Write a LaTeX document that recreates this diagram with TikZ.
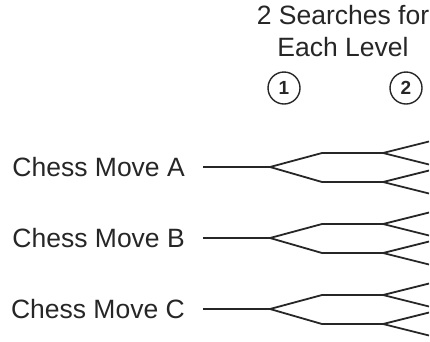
\documentclass[tikz,border=0pt]{standalone}
\usepackage{fontspec}
\setmainfont{Liberation Sans}
\begin{document}
\begin{tikzpicture}[x=1pt,y=-1pt,
  br/.style={line width=1.8pt,draw=black!85,line join=round},
  lbl/.style={font=\fontsize{26.5}{32}\selectfont,text=black!85,inner sep=0pt},
  num/.style={circle,draw=black!85,line width=1.4pt,minimum size=32pt,inner sep=0pt,font=\fontsize{19}{22}\selectfont\bfseries,text=black!85}]
\useasboundingbox (0,0) rectangle (430,341);
\node[lbl,align=center] (hdr) at (343,31) {2 Searches for\\Each Level};
\node[num] (c1) at (284,88) {1};
\node[num] (c2) at (406,88) {2};
\foreach \r/\y in {A/167,B/238,C/309}{
  \node[lbl,anchor=east] (t\r) at (185,\y) {Chess Move \r};
  \coordinate (s\r) at (203,\y);
  \coordinate (f\r) at (270,\y);
  \coordinate (u\r) at (322,\y-14);
  \coordinate (d\r) at (322,\y+15);
  \coordinate (uf\r) at (383,\y-14);
  \coordinate (df\r) at (383,\y+15);
  \coordinate (l1\r) at (429,\y-25.5);
  \coordinate (l2\r) at (429,\y-2.5);
  \coordinate (l3\r) at (429,\y+3.5);
  \coordinate (l4\r) at (429,\y+26.5);
  \draw[br] (s\r) -- (f\r) -- (u\r) -- (uf\r) -- (l1\r);
  \draw[br] (f\r) -- (d\r) -- (df\r) -- (l3\r);
  \draw[br] (uf\r) -- (l2\r);
  \draw[br] (df\r) -- (l4\r);
}
\end{tikzpicture}
\end{document}
